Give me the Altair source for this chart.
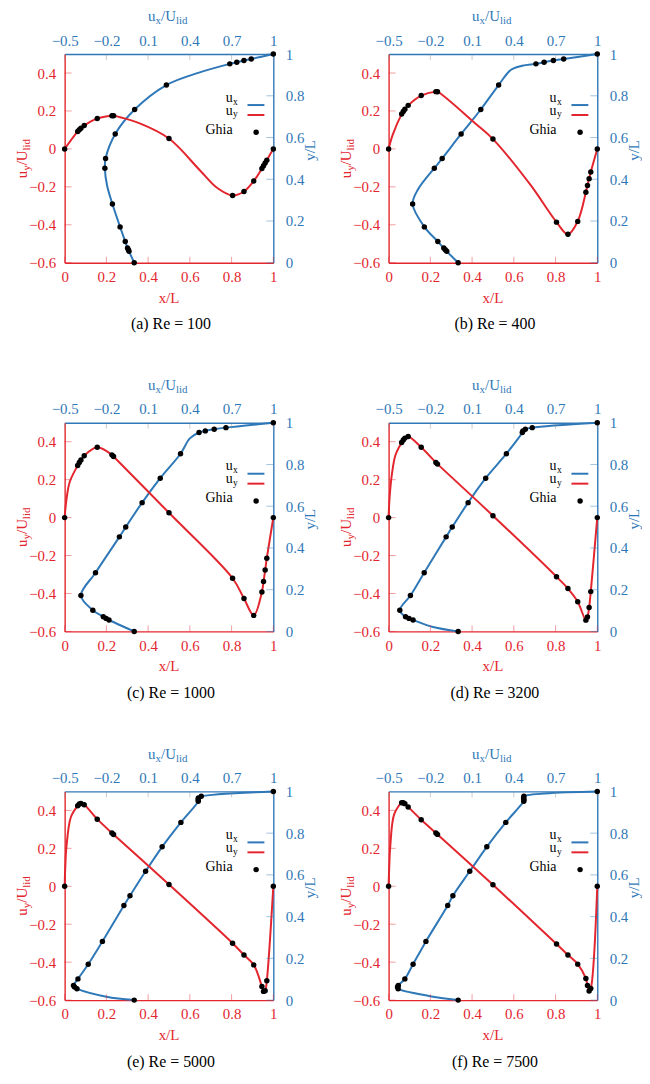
import altair as alt
import pandas as pd

# ---------------- data ----------------
# Ghia et al. sample positions
ghia_y = [1.0000, 0.9766, 0.9688, 0.9609, 0.9531, 0.8516, 0.7344, 0.6172, 0.5000,
          0.4531, 0.2813, 0.1719, 0.1016, 0.0703, 0.0625, 0.0547, 0.0000]
ghia_x = [1.0000, 0.9688, 0.9609, 0.9531, 0.9453, 0.9063, 0.8594, 0.8047, 0.5000,
          0.2344, 0.2266, 0.1563, 0.0938, 0.0781, 0.0703, 0.0625, 0.0000]

# u_x along the vertical centre line
ux_100 = [1.0, 0.84123, 0.78871, 0.73722, 0.68717, 0.23151, 0.00332, -0.13641, -0.20581,
          -0.21090, -0.15662, -0.10150, -0.06434, -0.04775, -0.04192, -0.03717, 0.0]
ux_400 = [1.0, 0.75837, 0.68439, 0.61756, 0.55892, 0.29093, 0.16256, 0.02135, -0.11477,
          -0.17119, -0.32726, -0.24299, -0.14612, -0.10338, -0.09266, -0.08186, 0.0]
ux_1000 = [1.0, 0.65928, 0.57492, 0.51117, 0.46604, 0.33304, 0.18719, 0.05702, -0.06080,
           -0.10648, -0.27805, -0.38289, -0.29730, -0.22220, -0.20196, -0.18109, 0.0]
ux_3200 = [1.0, 0.53236, 0.48296, 0.46547, 0.46101, 0.34682, 0.19791, 0.07156, -0.04272,
           -0.08636, -0.24427, -0.34323, -0.41933, -0.37827, -0.35344, -0.32407, 0.0]
ux_5000 = [1.0, 0.48223, 0.46120, 0.45992, 0.46036, 0.33556, 0.20087, 0.08183, -0.03039,
           -0.07404, -0.22855, -0.33050, -0.40435, -0.43643, -0.42901, -0.41165, 0.0]
ux_7500 = [1.0, 0.47244, 0.47048, 0.47323, 0.47167, 0.34228, 0.20591, 0.08342, -0.03800,
           -0.07503, -0.23176, -0.32393, -0.38324, -0.43025, -0.43590, -0.43154, 0.0]

# u_y along the horizontal centre line
uy_100 = [0.0, -0.05906, -0.07391, -0.08864, -0.10313, -0.16914, -0.22445, -0.24533, 0.05454,
          0.17527, 0.17507, 0.16077, 0.12317, 0.10890, 0.10091, 0.09233, 0.0]
uy_400 = [0.0, -0.12146, -0.15663, -0.19254, -0.22847, -0.38200, -0.44993, -0.38598, 0.05186,
          0.30174, 0.30203, 0.28124, 0.22965, 0.20920, 0.19713, 0.18360, 0.0]
uy_1000 = [0.0, -0.21388, -0.27669, -0.33714, -0.39188, -0.51550, -0.42665, -0.31966, 0.02526,
           0.32235, 0.33075, 0.37095, 0.32627, 0.30353, 0.29012, 0.27485, 0.0]
uy_3200 = [0.0, -0.39017, -0.47425, -0.52357, -0.54053, -0.44307, -0.37401, -0.31184, 0.00999,
           0.28188, 0.29030, 0.37119, 0.42768, 0.41906, 0.40917, 0.39560, 0.0]
uy_5000 = [0.0, -0.49774, -0.55069, -0.55408, -0.52876, -0.41442, -0.36214, -0.30018, 0.00945,
           0.27280, 0.28066, 0.35368, 0.42951, 0.43648, 0.43329, 0.42447, 0.0]
uy_7500 = [0.0, -0.53858, -0.55216, -0.52347, -0.48590, -0.41050, -0.36213, -0.30448, 0.00824,
           0.27348, 0.28117, 0.35060, 0.41824, 0.43564, 0.44030, 0.43979, 0.0]

# extra points of the simulated curves
sim_ux_y_100 = [0.37, 0.91]
sim_ux_u_100 = [-0.195, 0.46]
sim_uy_x_100 = [0.36, 0.65, 0.73]
sim_uy_v_100 = [0.135, -0.115, -0.205]

sim_ux_y_400 = [0.35, 0.925, 0.944]
sim_ux_u_400 = [-0.29, 0.38, 0.46]
sim_uy_x_400 = [0.02, 0.42, 0.68]
sim_uy_v_400 = [0.075, 0.13, -0.19]

sim_ux_y_1000 = [0.925]
sim_ux_u_1000 = [0.40]
sim_uy_x_1000 = [0.008, 0.025]
sim_uy_v_1000 = [0.09, 0.19]

sim_ux_y_3200 = [0.021]
sim_ux_u_3200 = [-0.18]
sim_uy_x_3200 = [0.005, 0.016, 0.033]
sim_uy_v_3200 = [0.11, 0.23, 0.33]

sim_ux_y_5000 = [0.016]
sim_ux_u_5000 = [-0.20]
sim_uy_x_5000 = [0.003, 0.008, 0.03]
sim_uy_v_5000 = [0.10, 0.20, 0.365]

sim_ux_y_7500 = [0.02]
sim_ux_u_7500 = [-0.21]
sim_uy_x_7500 = [0.003, 0.008, 0.027]
sim_uy_v_7500 = [0.10, 0.21, 0.38]

captions = ["(a) Re = 100", "(b) Re = 400", "(c) Re = 1000",
            "(d) Re = 3200", "(e) Re = 5000", "(f) Re = 7500"]

ux_ticks = [-0.5, -0.2, 0.1, 0.4, 0.7, 1]
uy_ticks = [-0.6, -0.4, -0.2, 0, 0.2, 0.4]
xl_ticks = [0, 0.2, 0.4, 0.6, 0.8, 1]
yl_ticks = [0, 0.2, 0.4, 0.6, 0.8, 1]

# ---------------- style ----------------
FONT = "Liberation Serif"
BLUE = "#2f78b7"
RED = "#e3262e"
W = H = 210

SX_B = alt.Scale(domain=[-0.5, 1], nice=False, zero=False)
SY_B = alt.Scale(domain=[0, 1], nice=False, zero=False)
SX_R = alt.Scale(domain=[0, 1], nice=False, zero=False)
SY_R = alt.Scale(domain=[-0.6, 0.5], nice=False, zero=False)

one = pd.DataFrame({"k": [0]})


def axis(orient, values, color, pad):
    return alt.Axis(orient=orient, values=values, format="~g", title=None, ticks=False,
                    grid=False, domainColor=color, domainWidth=1.4, labelColor=color,
                    labelFont=FONT, labelFontSize=15, labelPadding=pad,
                    labelFlush=False, labelOverlap=False)


def part(s, x, y, size, color, angle=0, align="left"):
    kw = dict(text=s, align=align, baseline="alphabetic", font=FONT,
              fontSize=size, color=color)
    if angle:
        kw["angle"] = angle
    return alt.Chart(one).mark_text(**kw).encode(x=alt.value(x), y=alt.value(y))


def panel(caption, ux, uy, ex_y, ex_u, ex_x, ex_v):
    blue_df = pd.DataFrame({"y": ghia_y + ex_y, "u": ux + ex_u})
    red_df = pd.DataFrame({"x": ghia_x + ex_x, "v": uy + ex_v})
    gb = pd.DataFrame({"y": ghia_y, "u": ux})
    gr = pd.DataFrame({"x": ghia_x, "v": uy})

    blue_line = alt.Chart(blue_df).mark_line(
        color=BLUE, strokeWidth=2, interpolate="catmull-rom").encode(
        x=alt.X("u:Q", scale=SX_B, axis=axis("top", ux_ticks, BLUE, 6)),
        y=alt.Y("y:Q", scale=SY_B, axis=axis("right", yl_ticks, BLUE, 12)),
        order=alt.Order("y:Q"))
    red_line = alt.Chart(red_df).mark_line(
        color=RED, strokeWidth=2, interpolate="catmull-rom").encode(
        x=alt.X("x:Q", scale=SX_R, axis=axis("bottom", xl_ticks, RED, 7)),
        y=alt.Y("v:Q", scale=SY_R, axis=axis("left", uy_ticks, RED, 9)),
        order=alt.Order("x:Q"))
    blue_dots = alt.Chart(gb).mark_circle(color="black", size=30, opacity=1).encode(
        x=alt.X("u:Q", scale=SX_B, axis=None), y=alt.Y("y:Q", scale=SY_B, axis=None))
    red_dots = alt.Chart(gr).mark_circle(color="black", size=30, opacity=1).encode(
        x=alt.X("x:Q", scale=SX_R, axis=None), y=alt.Y("v:Q", scale=SY_R, axis=None))

    tk = dict(strokeWidth=1, opacity=0.45)
    t_left = alt.Chart(pd.DataFrame({"t": uy_ticks})).mark_rule(color=RED, **tk).encode(
        y=alt.Y("t:Q", scale=SY_R, axis=None), x=alt.value(0), x2=alt.value(7))
    t_bottom = alt.Chart(pd.DataFrame({"t": xl_ticks})).mark_rule(color=RED, **tk).encode(
        x=alt.X("t:Q", scale=SX_R, axis=None), y=alt.value(H - 6), y2=alt.value(H))
    t_top = alt.Chart(pd.DataFrame({"t": ux_ticks})).mark_rule(color="#7f8c99", **tk).encode(
        x=alt.X("t:Q", scale=SX_B, axis=None), y=alt.value(0), y2=alt.value(6))
    t_right = alt.Chart(pd.DataFrame({"t": yl_ticks})).mark_rule(color=BLUE, **tk).encode(
        y=alt.Y("t:Q", scale=SY_B, axis=None), x=alt.value(W - 7), x2=alt.value(W))

    texts = [
        # top title u_x/U_lid
        part("u", 84, -33, 15, BLUE), part("x", 91.5, -30, 11, BLUE),
        part("/", 97, -33, 15, BLUE), part("U", 101.2, -33, 15, BLUE),
        part("lid", 112, -30, 11, BLUE),
        # left title u_y/U_lid
        part("u", -38, 125, 15, RED, 270), part("y", -35, 117.5, 11, RED, 270),
        part("/", -38, 112, 15, RED, 270), part("U", -38, 107.8, 15, RED, 270),
        part("lid", -35, 97, 11, RED, 270),
        # right and bottom titles
        part("y/L", 252, 97, 15, BLUE, 270, "center"),
        part("x/L", 105, 250, 15, RED, 0, "center"),
        # legend
        part("u", 169, 48, 14, "black", 0, "right"), part("x", 169.5, 51, 9.5, "black"),
        part("u", 169, 61, 14, "black", 0, "right"), part("y", 169.5, 63.5, 9.5, "black"),
        part("Ghia", 169, 80, 14, "black", 0, "right"),
        # caption
        part(caption, 107, 277, 16, "black", 0, "center"),
    ]
    leg_b = alt.Chart(one).mark_rule(color=BLUE, strokeWidth=2).encode(
        x=alt.value(184), x2=alt.value(201), y=alt.value(51.3))
    leg_r = alt.Chart(one).mark_rule(color=RED, strokeWidth=2).encode(
        x=alt.value(184), x2=alt.value(201), y=alt.value(61.3))
    leg_d = alt.Chart(one).mark_circle(color="black", size=30, opacity=1).encode(
        x=alt.value(192.7), y=alt.value(78.7))

    return alt.layer(blue_line, red_line, t_left, t_bottom, t_top, t_right,
                     blue_dots, red_dots, leg_b, leg_r, leg_d, *texts).resolve_scale(
        x="independent", y="independent").properties(width=W, height=H)


p = [
    panel(captions[0], ux_100, uy_100, sim_ux_y_100, sim_ux_u_100, sim_uy_x_100, sim_uy_v_100),
    panel(captions[1], ux_400, uy_400, sim_ux_y_400, sim_ux_u_400, sim_uy_x_400, sim_uy_v_400),
    panel(captions[2], ux_1000, uy_1000, sim_ux_y_1000, sim_ux_u_1000, sim_uy_x_1000, sim_uy_v_1000),
    panel(captions[3], ux_3200, uy_3200, sim_ux_y_3200, sim_ux_u_3200, sim_uy_x_3200, sim_uy_v_3200),
    panel(captions[4], ux_5000, uy_5000, sim_ux_y_5000, sim_ux_u_5000, sim_uy_x_5000, sim_uy_v_5000),
    panel(captions[5], ux_7500, uy_7500, sim_ux_y_7500, sim_ux_u_7500, sim_uy_x_7500, sim_uy_v_7500),
]

chart = alt.concat(*p, columns=2, spacing={"row": 161, "column": 116}, bounds="flush").properties(
    padding={"left": 6, "top": -2, "right": 0, "bottom": 0}
).configure_view(stroke=None)

chart.save("out.html", embed_options={"renderer": "svg", "actions": False})
